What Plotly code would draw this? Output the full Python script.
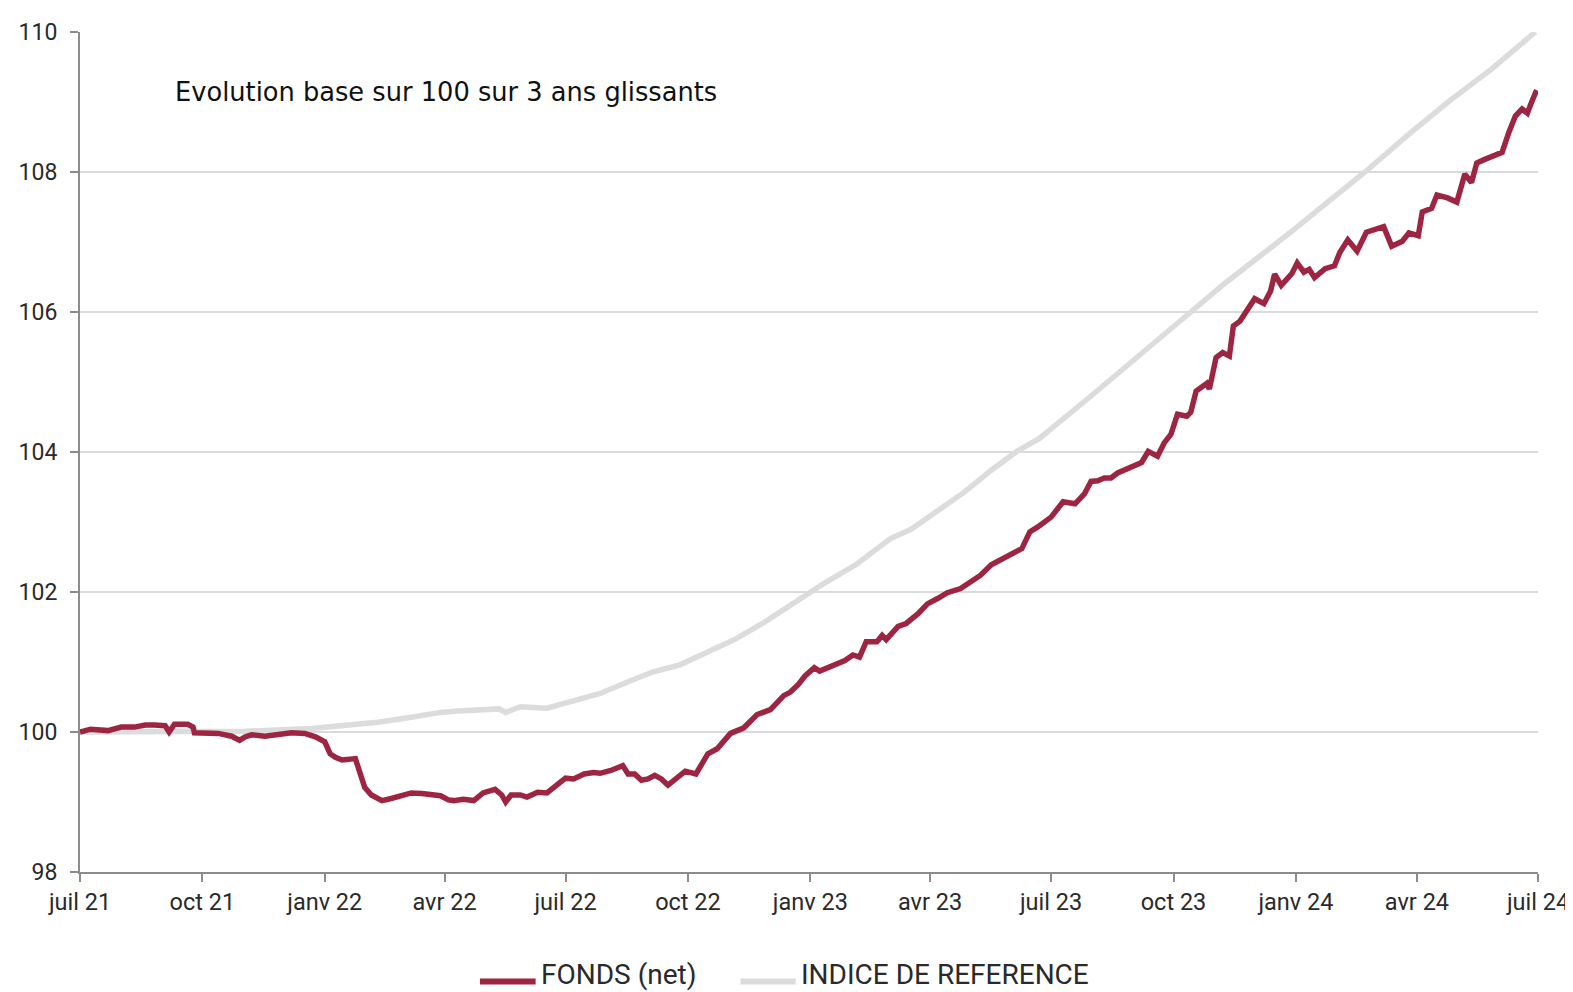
import plotly.graph_objects as go

# ---------------- DATA ----------------
FUND_NAME = "FONDS (net)"
BENCH_NAME = "INDICE DE REFERENCE"
TITLE_TEXT = "Evolution base sur 100 sur 3 ans glissants"

FUND_DATES = [
    "2021-07-01", "2021-07-09", "2021-07-22", "2021-08-01", "2021-08-11", "2021-08-19", "2021-08-26",
    "2021-09-03", "2021-09-06", "2021-09-10", "2021-09-20", "2021-09-24", "2021-09-25", "2021-10-03",
    "2021-10-13", "2021-10-23", "2021-10-29", "2021-11-02", "2021-11-07", "2021-11-17", "2021-11-27",
    "2021-12-07", "2021-12-17", "2021-12-25", "2022-01-01", "2022-01-05", "2022-01-09", "2022-01-14",
    "2022-01-24", "2022-01-27", "2022-01-31", "2022-02-05", "2022-02-13", "2022-02-20", "2022-02-28",
    "2022-03-07", "2022-03-15", "2022-03-22", "2022-03-29", "2022-04-04", "2022-04-08", "2022-04-15",
    "2022-04-23", "2022-04-30", "2022-05-09", "2022-05-14", "2022-05-17", "2022-05-21", "2022-05-28",
    "2022-06-02", "2022-06-10", "2022-06-17", "2022-06-25", "2022-07-01", "2022-07-07", "2022-07-15",
    "2022-07-22", "2022-07-27", "2022-08-04", "2022-08-09", "2022-08-13", "2022-08-17", "2022-08-22",
    "2022-08-27", "2022-09-01", "2022-09-06", "2022-09-11", "2022-09-16", "2022-09-21", "2022-09-29",
    "2022-10-07", "2022-10-16", "2022-10-23", "2022-11-02", "2022-11-12", "2022-11-22", "2022-12-02",
    "2022-12-12", "2022-12-17", "2022-12-23", "2022-12-28", "2023-01-04", "2023-01-08", "2023-01-17",
    "2023-01-27", "2023-02-02", "2023-02-07", "2023-02-12", "2023-02-20", "2023-02-24", "2023-02-27",
    "2023-03-08", "2023-03-14", "2023-03-23", "2023-03-30", "2023-04-07", "2023-04-14", "2023-04-24",
    "2023-05-04", "2023-05-09", "2023-05-17", "2023-05-27", "2023-06-09", "2023-06-15", "2023-06-21",
    "2023-07-01", "2023-07-10", "2023-07-19", "2023-07-26", "2023-07-31", "2023-08-05", "2023-08-10",
    "2023-08-15", "2023-08-20", "2023-08-28", "2023-09-07", "2023-09-12", "2023-09-19", "2023-09-24",
    "2023-09-29", "2023-10-04", "2023-10-11", "2023-10-14", "2023-10-18", "2023-10-26", "2023-10-28",
    "2023-11-02", "2023-11-07", "2023-11-12", "2023-11-15", "2023-11-20", "2023-11-26", "2023-12-01",
    "2023-12-08", "2023-12-13", "2023-12-16", "2023-12-21", "2023-12-29", "2024-01-02", "2024-01-07",
    "2024-01-11", "2024-01-15", "2024-01-23", "2024-01-30", "2024-02-03", "2024-02-09", "2024-02-16",
    "2024-02-23", "2024-03-01", "2024-03-07", "2024-03-13", "2024-03-21", "2024-03-26", "2024-04-02",
    "2024-04-05", "2024-04-12", "2024-04-16", "2024-04-24", "2024-05-01", "2024-05-07", "2024-05-12",
    "2024-05-16", "2024-05-22", "2024-05-30", "2024-06-04", "2024-06-09", "2024-06-14", "2024-06-19",
    "2024-06-23", "2024-06-26", "2024-06-30",
]
FUND_VALUES = [
    100.00, 100.04, 100.02, 100.07, 100.07, 100.10, 100.10,
    100.09, 100.00, 100.11, 100.11, 100.07, 99.99, 99.99,
    99.98, 99.94, 99.88, 99.93, 99.96, 99.94, 99.96,
    99.99, 99.98, 99.93, 99.86, 99.69, 99.64, 99.60,
    99.62, 99.43, 99.21, 99.10, 99.02, 99.05, 99.09,
    99.13, 99.12, 99.10, 99.09, 99.03, 99.02, 99.04,
    99.02, 99.13, 99.18, 99.10, 99.00, 99.10, 99.10,
    99.07, 99.14, 99.13, 99.24, 99.34, 99.33, 99.40,
    99.42, 99.41, 99.45, 99.49, 99.52, 99.40, 99.40,
    99.31, 99.33, 99.38, 99.33, 99.24, 99.31, 99.44,
    99.40, 99.69, 99.76, 99.98, 100.06, 100.25, 100.32,
    100.52, 100.57, 100.68, 100.80, 100.92, 100.87, 100.95,
    101.02, 101.10, 101.07, 101.29, 101.29, 101.38, 101.32,
    101.51, 101.55, 101.69, 101.83, 101.91, 101.99, 102.05,
    102.19, 102.24, 102.39, 102.49, 102.62, 102.86, 102.93,
    103.07, 103.29, 103.26, 103.40, 103.58, 103.59, 103.63,
    103.63, 103.70, 103.76, 103.85, 104.01, 103.94, 104.13,
    104.25, 104.54, 104.51, 104.57, 104.87, 104.98, 104.90,
    105.35, 105.42, 105.37, 105.80, 105.87, 106.06, 106.19,
    106.12, 106.30, 106.54, 106.38, 106.55, 106.70, 106.57,
    106.61, 106.49, 106.62, 106.66, 106.85, 107.03, 106.87,
    107.14, 107.18, 107.22, 106.94, 107.01, 107.13, 107.09,
    107.43, 107.48, 107.67, 107.63, 107.57, 107.97, 107.85,
    108.13, 108.18, 108.24, 108.28, 108.56, 108.80, 108.90,
    108.84, 108.99, 109.17,
]

BENCH_DATES = [
    "2021-07-01", "2021-09-01", "2021-11-02", "2021-12-22", "2022-02-10", "2022-03-07",
    "2022-03-29", "2022-04-11", "2022-04-23", "2022-05-12", "2022-05-17", "2022-05-28",
    "2022-06-17", "2022-07-07", "2022-07-27", "2022-08-16", "2022-09-05", "2022-09-25",
    "2022-10-16", "2022-11-06", "2022-11-26", "2022-12-17", "2023-01-11", "2023-02-05",
    "2023-02-21", "2023-03-02", "2023-03-18", "2023-04-09", "2023-04-27", "2023-05-17",
    "2023-06-06", "2023-06-22", "2023-07-11", "2023-07-31", "2023-08-25", "2023-09-19",
    "2023-10-14", "2023-11-08", "2023-12-04", "2023-12-30", "2024-01-23", "2024-02-22",
    "2024-03-26", "2024-04-25", "2024-05-27", "2024-06-29",
]
BENCH_VALUES = [
    100.00, 100.00, 100.01, 100.05, 100.14, 100.21,
    100.28, 100.30, 100.31, 100.33, 100.28, 100.36,
    100.34, 100.45, 100.55, 100.71, 100.86, 100.96,
    101.15, 101.33, 101.55, 101.81, 102.12, 102.40,
    102.64, 102.76, 102.90, 103.19, 103.43, 103.74,
    104.02, 104.19, 104.48, 104.80, 105.20, 105.59,
    106.00, 106.40, 106.78, 107.17, 107.54, 108.00,
    108.54, 109.01, 109.47, 110.00,
]

X_TICK_DATES = ["2021-07-01", "2021-10-01", "2022-01-01", "2022-04-01", "2022-07-01",
                "2022-10-01", "2023-01-01", "2023-04-01", "2023-07-01", "2023-10-01",
                "2024-01-01", "2024-04-01", "2024-07-01"]
X_TICK_LABELS = ["juil 21", "oct 21", "janv 22", "avr 22", "juil 22", "oct 22", "janv 23",
                 "avr 23", "juil 23", "oct 23", "janv 24", "avr 24", "juil 24"]
Y_TICKS = [98, 100, 102, 104, 106, 108, 110]

# ---------------- FIGURE ----------------
FONT = "Roboto"
TITLE_FONT = "DejaVu Sans"
FUND_COLOR = "#9D2542"
BENCH_COLOR = "#DCDCDC"
TEXT_COLOR = "#2A2A2A"

fig = go.Figure()
fig.add_trace(go.Scatter(x=BENCH_DATES, y=BENCH_VALUES, mode="lines", name=BENCH_NAME,
                         showlegend=False, line=dict(color=BENCH_COLOR, width=5.5)))
fig.add_trace(go.Scatter(x=FUND_DATES, y=FUND_VALUES, mode="lines", name=FUND_NAME,
                         showlegend=False, line=dict(color=FUND_COLOR, width=5.5)))

# legend drawn below the plot (line sample + label for each series)
legend_items = [(FUND_NAME, FUND_COLOR, 0.2743, 0.3125), (BENCH_NAME, BENCH_COLOR, 0.4530, 0.4909)]
shapes = []
annotations = [dict(text=TITLE_TEXT, xref="paper", yref="paper", x=0.064, y=0.929,
                    xanchor="left", yanchor="middle", showarrow=False,
                    font=dict(size=25.7, color="#111111", family=TITLE_FONT))]
for name, color, x0, x1 in legend_items:
    shapes.append(dict(type="line", xref="paper", yref="paper", x0=x0, x1=x1,
                       y0=-0.1305, y1=-0.1305, line=dict(color=color, width=6)))
    annotations.append(dict(text=name, xref="paper", yref="paper", x=x1 + 0.002, y=-0.1226,
                            xanchor="left", yanchor="middle", showarrow=False,
                            font=dict(size=28, color=TEXT_COLOR, family=FONT)))

# page body has an 8px offset, so margins are reduced accordingly
fig.update_layout(
    width=1573, height=992,
    margin=dict(l=72, r=43, t=24, b=128, autoexpand=False),
    paper_bgcolor="white", plot_bgcolor="white",
    font=dict(family=FONT, color=TEXT_COLOR, size=20),
    showlegend=False,
    shapes=shapes,
    annotations=annotations,
)
fig.update_xaxes(
    type="date", range=["2021-07-01", "2024-07-01"],
    tickvals=X_TICK_DATES, ticktext=X_TICK_LABELS, automargin=False,
    showgrid=False, showline=True, linecolor="#8C8C8C", linewidth=2,
    ticks="outside", ticklen=8, tickwidth=2, tickcolor="#8C8C8C",
    tickfont=dict(size=23.5, color=TEXT_COLOR), zeroline=False, ticklabelstandoff=0,
)
fig.update_yaxes(
    range=[98, 110], tickvals=Y_TICKS, automargin=False,
    showgrid=True, gridcolor="#DADADA", gridwidth=2,
    showline=True, linecolor="#8C8C8C", linewidth=2,
    ticks="outside", ticklen=8, tickwidth=2, tickcolor="#8C8C8C",
    tickfont=dict(size=23, color=TEXT_COLOR), zeroline=False, ticklabelstandoff=8,
)

fig.write_html("out.html")
